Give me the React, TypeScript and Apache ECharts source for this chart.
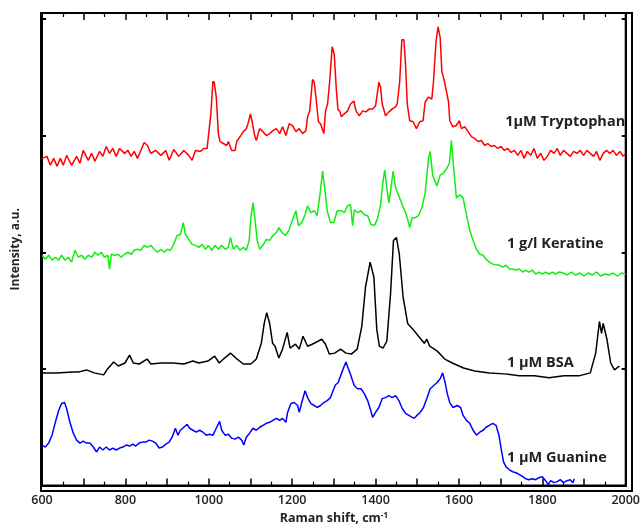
import React, { useEffect, useRef } from "react";
import * as echarts from "echarts";

const xTicks = [600, 800, 1000, 1200, 1400, 1600, 1800, 2000];
const seriesNames = ["1µM Tryptophan", "1 g/l Keratine", "1 µM BSA", "1 µM Guanine"];

const tryptophan: [number, number][] = [
  [600,331],[612,333],[620,324],[628,331],[636,323],[644,331],[651,324],[659,334],[671,324],[683,333],[691,326],[699,339],[711,329],[719,336],[727,328],[738,338],[746,333],[754,343],[762,336],[770,341],[778,333],[786,341],[798,336],[806,339],[814,333],[821,338],[829,331],[837,339],[845,347],[853,344],[861,336],[873,339],[885,334],[897,339],[905,329],[916,340],[928,333],[940,339],[952,334],[960,329],[968,339],[980,338],[988,341],[996,341],[999,353],[1005,376],[1010,409],[1013,408],[1018,393],[1023,356],[1027,348],[1035,346],[1043,344],[1047,348],[1055,339],[1063,339],[1067,348],[1075,353],[1083,358],[1090,361],[1094,366],[1100,376],[1105,366],[1110,354],[1114,349],[1122,361],[1130,358],[1138,354],[1146,356],[1154,359],[1162,361],[1170,356],[1177,363],[1185,354],[1193,366],[1201,364],[1209,358],[1217,361],[1225,356],[1233,359],[1237,373],[1242,379],[1249,411],[1253,408],[1258,389],[1263,368],[1268,366],[1276,356],[1280,379],[1285,386],[1290,409],[1296,444],[1301,436],[1306,400],[1310,380],[1314,379],[1318,373],[1325,376],[1333,379],[1340,386],[1348,389],[1353,379],[1361,374],[1369,379],[1377,378],[1385,381],[1393,381],[1400,384],[1404,396],[1408,408],[1412,403],[1416,386],[1424,374],[1432,378],[1440,381],[1448,383],[1452,386],[1458,409],[1463,451],[1468,451],[1472,426],[1476,386],[1482,369],[1490,368],[1498,361],[1506,368],[1514,369],[1519,388],[1527,393],[1535,391],[1539,409],[1545,449],[1550,464],[1555,453],[1559,419],[1564,411],[1569,401],[1575,388],[1578,369],[1585,363],[1593,364],[1601,369],[1606,361],[1614,363],[1622,358],[1630,353],[1638,351],[1646,348],[1654,349],[1662,344],[1669,346],[1677,343],[1685,344],[1693,341],[1701,343],[1709,339],[1717,341],[1725,337],[1733,339],[1741,334],[1749,339],[1756,331],[1764,338],[1772,334],[1780,341],[1788,331],[1796,336],[1804,329],[1812,333],[1820,339],[1828,336],[1836,341],[1843,334],[1851,339],[1859,336],[1867,333],[1875,338],[1883,336],[1891,339],[1899,334],[1907,339],[1915,336],[1923,333],[1930,338],[1938,329],[1946,336],[1954,339],[1962,336],[1970,339],[1978,334],[1986,338],[1994,333],[2000,336]
];

const keratine: [number, number][] = [
  [600,233],[608,229],[616,233],[624,228],[632,231],[640,228],[647,233],[655,228],[663,231],[671,226],[679,238],[687,231],[695,233],[703,229],[711,233],[719,231],[727,236],[734,233],[742,236],[750,231],[758,233],[762,219],[766,234],[774,233],[782,234],[790,231],[798,234],[806,236],[814,234],[821,238],[829,239],[837,238],[845,243],[853,241],[861,243],[869,239],[877,236],[885,239],[893,236],[901,239],[908,238],[916,244],[924,253],[932,254],[939,266],[944,254],[952,249],[960,244],[968,243],[976,241],[984,244],[992,239],[999,243],[1007,238],[1015,243],[1023,239],[1031,243],[1039,239],[1047,241],[1052,251],[1059,239],[1067,243],[1075,238],[1083,241],[1090,238],[1097,248],[1101,271],[1106,286],[1111,269],[1116,248],[1122,239],[1130,243],[1138,249],[1146,248],[1154,253],[1162,256],[1168,261],[1176,256],[1184,253],[1192,258],[1200,268],[1209,278],[1215,263],[1223,266],[1231,274],[1237,283],[1245,276],[1253,278],[1260,273],[1268,299],[1273,318],[1278,301],[1284,278],[1292,266],[1300,266],[1308,278],[1318,278],[1325,276],[1333,283],[1340,284],[1345,263],[1349,279],[1357,276],[1365,278],[1373,274],[1381,273],[1389,264],[1397,263],[1404,269],[1412,284],[1418,308],[1422,319],[1427,301],[1432,286],[1438,304],[1442,318],[1448,301],[1456,293],[1464,284],[1472,276],[1477,269],[1482,261],[1488,271],[1495,271],[1503,273],[1511,281],[1519,296],[1527,331],[1531,338],[1537,314],[1547,303],[1555,314],[1563,316],[1571,321],[1577,326],[1582,349],[1588,318],[1594,291],[1602,294],[1610,291],[1618,274],[1626,258],[1634,248],[1642,239],[1650,234],[1658,233],[1665,229],[1673,226],[1681,224],[1689,223],[1697,223],[1705,221],[1713,223],[1721,219],[1729,219],[1737,218],[1745,219],[1753,216],[1760,218],[1768,216],[1776,218],[1784,214],[1792,216],[1800,214],[1808,216],[1816,214],[1824,216],[1832,214],[1840,216],[1850,215],[1860,213],[1870,216],[1880,213],[1890,215],[1900,212],[1910,215],[1920,213],[1930,216],[1940,212],[1950,214],[1960,213],[1970,215],[1980,212],[1990,215],[2000,214]
];

const bsa: [number, number][] = [
  [600,114],[636,114],[672,115],[689,115],[707,117],[725,114],[748,112],[757,118],[772,125],[783,121],[799,124],[810,132],[819,124],[833,123],[852,128],[861,123],[886,124],[913,124],[940,123],[962,126],[976,124],[998,126],[1014,131],[1025,124],[1038,129],[1052,134],[1065,129],[1083,123],[1101,123],[1114,128],[1126,144],[1133,164],[1139,175],[1146,164],[1153,144],[1159,141],[1168,129],[1177,138],[1188,155],[1195,139],[1208,143],[1217,138],[1226,151],[1237,141],[1248,143],[1262,146],[1271,148],[1280,143],[1289,133],[1302,134],[1316,138],[1329,134],[1342,133],[1356,138],[1367,161],[1376,201],[1387,226],[1396,211],[1403,158],[1409,141],[1418,139],[1427,146],[1436,194],[1443,248],[1450,251],[1457,234],[1466,191],[1477,164],[1490,158],[1503,151],[1517,144],[1523,148],[1530,141],[1548,136],[1566,128],[1584,124],[1611,119],[1638,116],[1673,114],[1709,113],[1745,111],[1781,111],[1816,109],[1852,111],[1888,111],[1915,114],[1928,134],[1937,166],[1942,154],[1946,164],[1955,148],[1964,124],[1973,117],[1985,121]
];

const guanine: [number, number][] = [
  [600,41],[608,39],[616,43],[624,51],[632,64],[640,76],[647,83],[654,84],[659,78],[667,64],[675,53],[683,46],[691,43],[699,45],[707,43],[715,43],[723,39],[731,34],[738,39],[746,36],[754,39],[762,36],[770,38],[778,36],[786,38],[794,39],[802,41],[810,40],[818,42],[825,40],[833,43],[841,44],[849,44],[857,46],[865,45],[873,43],[881,38],[889,39],[897,42],[905,44],[912,49],[920,58],[926,51],[932,56],[940,59],[948,62],[954,58],[962,56],[970,54],[978,56],[986,54],[994,51],[1002,52],[1010,51],[1018,58],[1026,65],[1031,56],[1039,51],[1047,52],[1055,48],[1063,47],[1071,49],[1079,46],[1084,41],[1090,49],[1098,53],[1106,58],[1114,56],[1122,59],[1130,61],[1138,63],[1146,64],[1154,66],[1162,68],[1170,66],[1177,68],[1185,64],[1189,74],[1197,83],[1205,84],[1213,81],[1217,74],[1223,84],[1231,96],[1237,89],[1245,83],[1253,81],[1260,79],[1268,81],[1276,84],[1284,86],[1292,89],[1298,96],[1304,102],[1310,104],[1318,113],[1325,121],[1329,125],[1335,118],[1341,111],[1349,101],[1357,98],[1365,98],[1373,93],[1381,86],[1387,78],[1393,69],[1400,74],[1408,79],[1416,88],[1424,89],[1432,91],[1440,89],[1448,91],[1456,86],[1464,78],[1472,73],[1480,71],[1488,69],[1493,68],[1499,71],[1507,74],[1515,79],[1523,88],[1531,98],[1539,101],[1547,104],[1555,108],[1561,114],[1567,104],[1572,93],[1578,84],[1586,79],[1596,81],[1604,79],[1610,71],[1618,66],[1626,63],[1634,56],[1642,51],[1650,54],[1658,56],[1665,59],[1673,61],[1681,63],[1689,61],[1696,51],[1701,38],[1707,24],[1713,19],[1721,16],[1729,14],[1737,13],[1745,11],[1753,9],[1760,7],[1768,6],[1776,7],[1784,6],[1792,8],[1800,9],[1808,5],[1814,1],[1820,5],[1828,3],[1836,4],[1843,6],[1851,3],[1859,5],[1867,6],[1873,3],[1877,7]
];

const seriesData = [tryptophan, keratine, bsa, guanine];
const seriesColors = ["#ff0000", "#11ee11", "#000000", "#0000ff"];
const labelAnchors: [number, number][] = [[1711, 369], [1715, 246], [1715, 126], [1715, 29]];

const GRID = { left: 41, right: 11, top: 13, bottom: 38 };
const W = 643;
const H = 529;

export default function App() {
  const ref = useRef<HTMLDivElement>(null);
  useEffect(() => {
    if (!ref.current) return;
    const chart = echarts.init(ref.current, undefined, { renderer: "svg" });
    const font = "'Open Sans', 'DejaVu Sans', sans-serif";
    const xTickCommon = {
      axisTick: { show: true, inside: true, length: 7, lineStyle: { color: "#000", width: 1.5 } },
      minorTick: { show: true, splitNumber: 2, length: 4, lineStyle: { color: "#000", width: 1.2 } },
    };
    const yTick = { show: true, inside: true, length: 4, lineStyle: { color: "#000", width: 2 } };
    chart.setOption({
      animation: false,
      grid: { ...GRID, show: true, borderColor: "#000", borderWidth: 2 },
      xAxis: [
        {
          type: "value",
          min: 600,
          max: 2000,
          interval: 100,
          position: "bottom",
          axisLine: { show: true, onZero: false, lineStyle: { color: "#000", width: 2 } },
          splitLine: { show: false },
          ...xTickCommon,
          name: "Raman shift, cm{sup|-1}",
          nameLocation: "middle",
          nameGap: 24,
          nameTextStyle: {
            fontFamily: font,
            fontWeight: "bold",
            fontSize: 12.5,
            color: "#222",
            rich: { sup: { fontSize: 8, fontWeight: "bold", fontFamily: font, color: "#222", verticalAlign: "top", padding: [0, 0, 6, 0] } },
          },
          axisLabel: {
            fontFamily: font,
            fontWeight: 600,
            fontSize: 12.5,
            color: "#222",
            margin: 7,
            formatter: (v: number) => (xTicks.includes(v) ? String(v) : ""),
          },
        },
        {
          type: "value",
          min: 600,
          max: 2000,
          interval: 100,
          position: "top",
          axisLine: { show: true, onZero: false, lineStyle: { color: "#000", width: 2 } },
          splitLine: { show: false },
          axisLabel: { show: false },
          ...xTickCommon,
        },
      ],
      yAxis: [
        {
          type: "value",
          min: 0,
          max: 478,
          interval: 118,
          position: "left",
          axisLine: { show: true, onZero: false, lineStyle: { color: "#000", width: 2 } },
          splitLine: { show: false },
          axisLabel: { show: false },
          axisTick: yTick,
          name: "Intensity, a.u.",
          nameLocation: "middle",
          nameGap: 22,
          nameTextStyle: { fontFamily: font, fontWeight: "bold", fontSize: 12, color: "#222" },
        },
        {
          type: "value",
          min: 0,
          max: 478,
          interval: 118,
          position: "right",
          axisLine: { show: true, onZero: false, lineStyle: { color: "#000", width: 2 } },
          splitLine: { show: false },
          axisLabel: { show: false },
          axisTick: yTick,
        },
      ],
      graphic: [
        {
          type: "rect",
          silent: true,
          z: 100,
          shape: { x: GRID.left, y: GRID.top, width: W - GRID.left - GRID.right, height: H - GRID.top - GRID.bottom },
          style: { fill: "none", stroke: "#000", lineWidth: 2 },
        },
      ],
      series: seriesData.map((d, i) => ({
        type: "line",
        name: seriesNames[i],
        data: d,
        showSymbol: false,
        symbol: "none",
        lineStyle: { color: seriesColors[i], width: 1.5 },
        itemStyle: { color: seriesColors[i] },
        markPoint: {
          symbol: "rect",
          symbolSize: 0,
          silent: true,
          data: [
            {
              coord: labelAnchors[i],
              label: {
                show: true,
                formatter: seriesNames[i],
                position: "right",
                distance: 0,
                fontFamily: font,
                fontWeight: "bold",
                fontSize: 14.5,
                color: "#222",
              },
            },
          ],
        },
      })),
    });
    return () => chart.dispose();
  }, []);
  return <div ref={ref} style={{ position: "fixed", left: 0, top: 0, width: W, height: H }} />;
}
